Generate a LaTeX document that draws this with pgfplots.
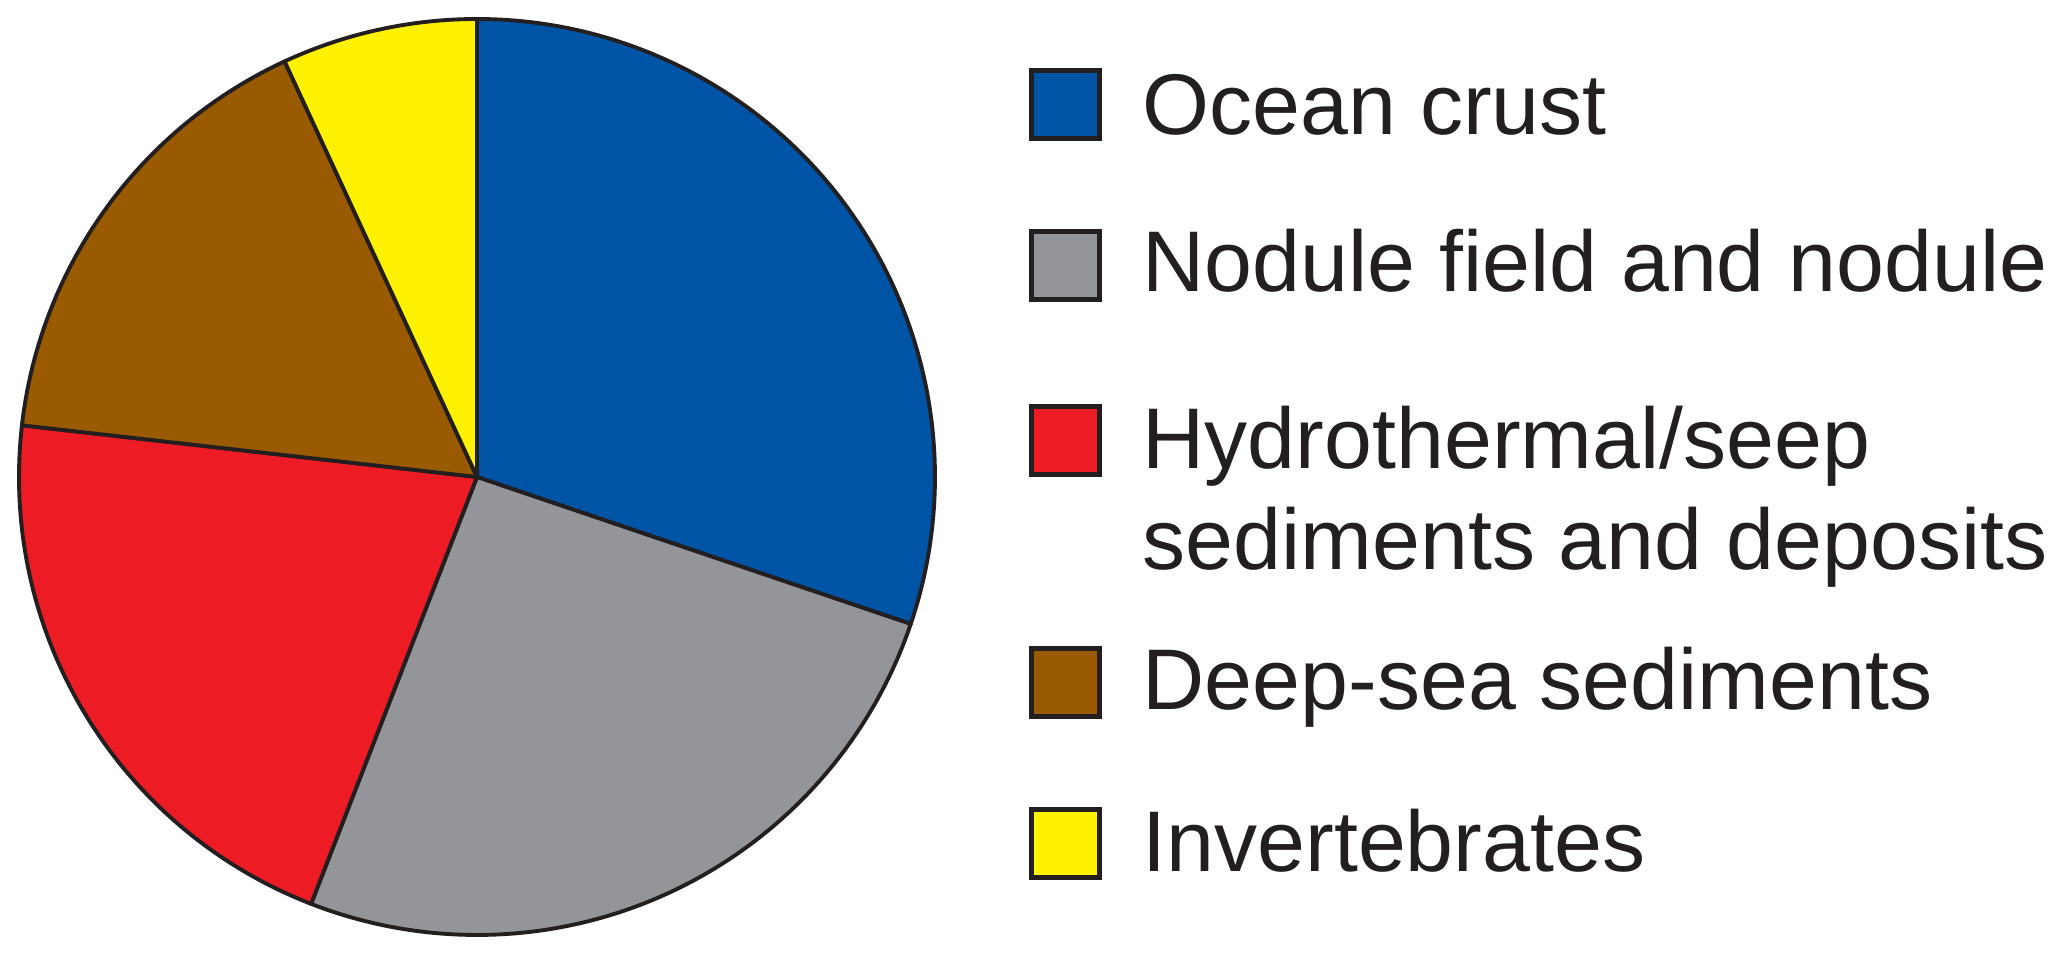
\documentclass[border=0pt]{standalone}
\usepackage{pgfplots}
\pgfplotsset{compat=1.18}
\usepackage{fontspec}
\setmainfont{Liberation Sans}

\definecolor{edge}{HTML}{231F20}
\definecolor{crust}{HTML}{0054A6}
\definecolor{nodule}{HTML}{939598}
\definecolor{hydro}{HTML}{ED1C24}
\definecolor{deepsea}{HTML}{995A00}
\definecolor{invert}{HTML}{FFF200}

% shares in percent, clockwise from 12 o'clock
\pgfmathsetmacro{\aA}{90}
\pgfmathsetmacro{\aB}{\aA-3.6*30.2}% Ocean crust
\pgfmathsetmacro{\aC}{\aB-3.6*25.7}% Nodule field and nodule
\pgfmathsetmacro{\aD}{\aC-3.6*20.9}% Hydrothermal/seep
\pgfmathsetmacro{\aE}{\aD-3.6*16.3}% Deep-sea sediments
\pgfmathsetmacro{\aF}{\aE-3.6*6.9}%  Invertebrates

% one wedge: colour, start angle, end angle (clockwise)
\newcommand{\pieslice}[3]{%
  \filldraw[fill=#1, draw=edge, line width=1.1pt, line join=round]
    (axis cs:0,0) -- (axis cs:{cos(#2)},{sin(#2)})
    arc[start angle=#2, end angle=#3, radius=4.58cm] -- cycle;}

\begin{document}
\begin{tikzpicture}[x=0.1mm, y=0.1mm]
  \begin{axis}[
      at={(47.7mm,47.8mm)}, anchor=origin,
      x=4.58cm, y=4.58cm,
      xmin=-1, xmax=1, ymin=-1, ymax=1,
      hide axis, clip=false]
    \pieslice{crust}{\aA}{\aB}
    \pieslice{nodule}{\aB}{\aC}
    \pieslice{hydro}{\aC}{\aD}
    \pieslice{deepsea}{\aD}{\aE}
    \pieslice{invert}{\aE}{\aF}
  \end{axis}

  % legend
  \tikzset{key/.style={draw=edge, line width=1.4pt},
           lab/.style={anchor=base west, inner sep=0pt, text=edge,
                       font=\fontsize{24.5}{29}\selectfont}}
  \filldraw[key, fill=crust]   (1031.5,884.5) rectangle (1099.5,816.5);
  \filldraw[key, fill=nodule]  (1031.5,723.5) rectangle (1099.5,655.5);
  \filldraw[key, fill=hydro]   (1031.5,548.5) rectangle (1099.5,480.5);
  \filldraw[key, fill=deepsea] (1031.5,306.5) rectangle (1099.5,238.5);
  \filldraw[key, fill=invert]  (1031.5,145.5) rectangle (1099.5,77.5);

  \node[lab] at (1142,820) {Ocean crust};
  \node[lab] at (1142,663) {Nodule field and nodule};
  \node[lab] at (1142,486) {Hydrothermal/seep};
  \node[lab] at (1142,385) {sediments and deposits};
  \node[lab] at (1142,245) {Deep-sea sediments};
  \node[lab] at (1142,83)  {Invertebrates};

  \pgfresetboundingbox
  \path (0,0) rectangle (2067,955);
\end{tikzpicture}
\end{document}
